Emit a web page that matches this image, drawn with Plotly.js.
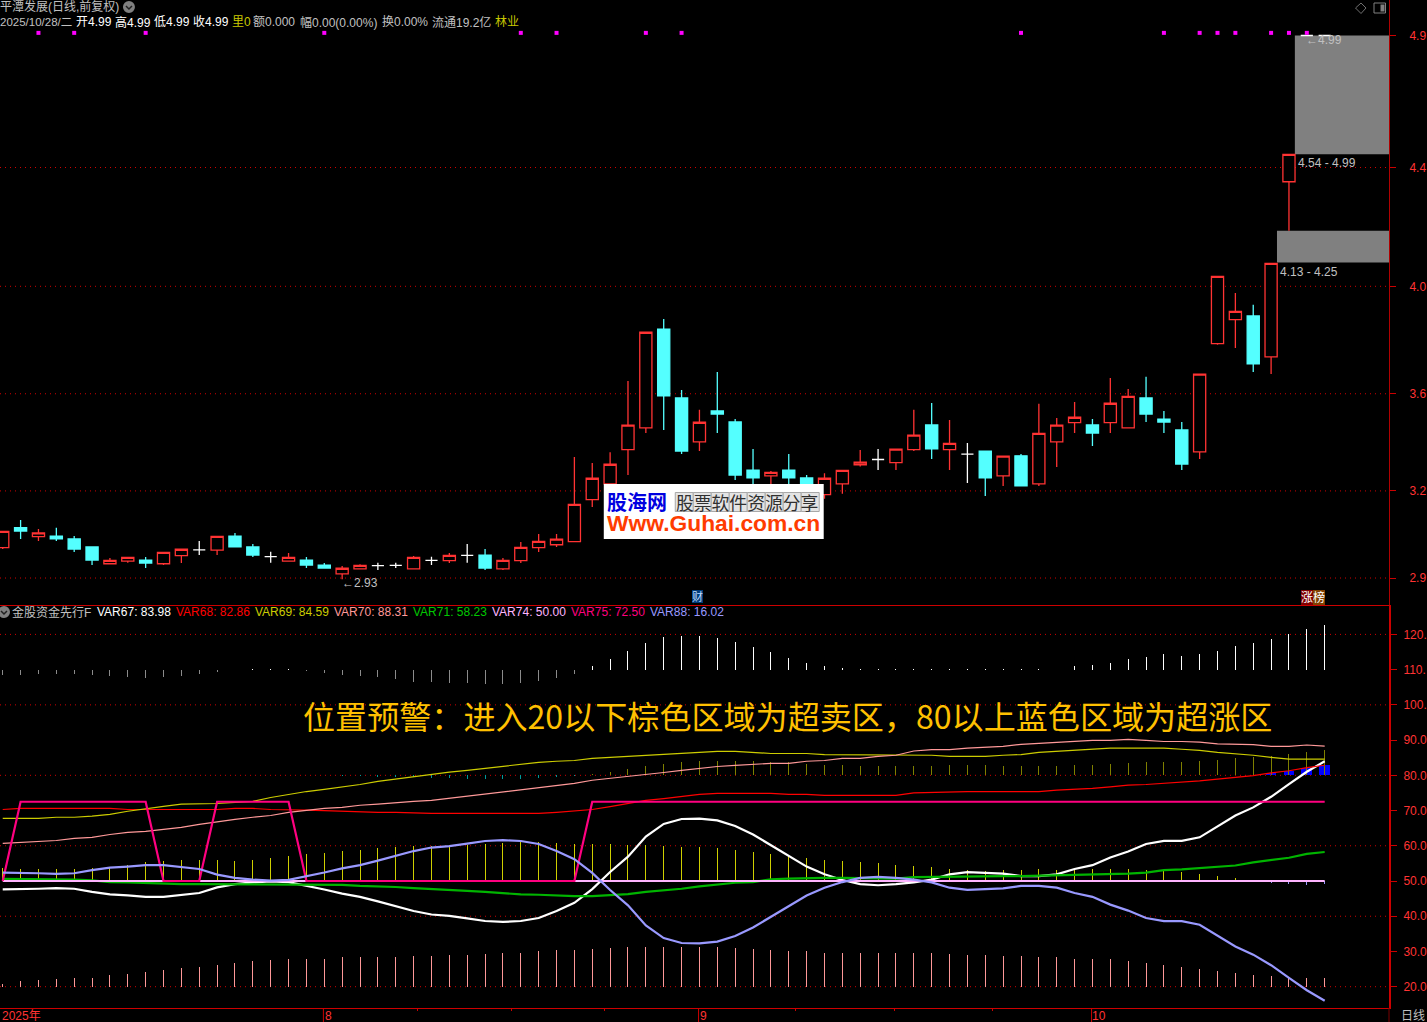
<!DOCTYPE html>
<html>
<head>
<meta charset="utf-8">
<script src="https://cdn.plot.ly/plotly-3.0.1.min.js"></script>
<style>html,body{margin:0;padding:0;background:#000;overflow:hidden}#chart{width:1427px;height:1022px}</style>
</head>
<body>
<div id="chart"></div>
<script>
const openPrices = [3.05,3.126,3.092,3.094,3.083,3.053,2.989,2.999,3.003,2.989,3.02,3.042,3.041,3.094,3.053,3.016,2.999,3.003,2.984,2.951,2.97,2.982,2.983,2.97,3.002,3.001,3.021,3.022,2.97,3.001,3.05,3.061,3.073,3.232,3.292,3.421,3.504,3.878,3.617,3.451,3.568,3.526,3.344,3.322,3.344,3.314,3.251,3.292,3.364,3.384,3.372,3.421,3.515,3.421,3.404,3.416,3.322,3.398,3.292,3.451,3.524,3.515,3.524,3.504,3.617,3.537,3.496,3.413,3.823,3.914,3.928,3.773,4.436,4.99,4.99];
const highPrices = [3.113,3.155,3.121,3.125,3.094,3.053,3.011,3.015,3.015,3.034,3.045,3.075,3.094,3.106,3.064,3.035,3.03,3.015,2.992,2.981,2.987,2.993,2.993,3.018,3.016,3.03,3.064,3.045,3.011,3.071,3.102,3.102,3.393,3.371,3.411,3.681,3.867,3.916,3.647,3.572,3.715,3.537,3.424,3.34,3.405,3.325,3.332,3.344,3.42,3.424,3.424,3.572,3.598,3.534,3.446,3.416,3.398,3.405,3.595,3.541,3.602,3.537,3.693,3.651,3.697,3.568,3.526,3.708,4.079,4.015,3.97,4.128,4.542,4.99,4.99];
const lowPrices = [3.045,3.083,3.075,3.075,3.034,2.984,2.988,2.993,2.973,2.984,2.992,3.022,3.022,3.051,3.015,2.993,2.999,2.973,2.973,2.93,2.968,2.965,2.973,2.97,2.984,2.992,2.993,2.965,2.965,2.992,3.034,3.053,3.073,3.204,3.276,3.325,3.484,3.496,3.405,3.416,3.484,3.306,3.268,3.291,3.284,3.268,3.235,3.254,3.357,3.344,3.344,3.416,3.386,3.344,3.295,3.246,3.284,3.284,3.284,3.356,3.484,3.435,3.484,3.504,3.526,3.484,3.344,3.386,3.819,3.806,3.715,3.708,4.25,4.99,4.99];
const closePrices = [3.112,3.113,3.106,3.083,3.045,3.003,3.002,3.013,2.992,3.032,3.044,3.042,3.093,3.053,3.022,3.016,3.013,2.984,2.973,2.972,2.983,2.982,2.983,3.013,3.002,3.021,3.021,2.973,3.002,3.051,3.074,3.082,3.214,3.313,3.366,3.514,3.866,3.625,3.416,3.525,3.556,3.325,3.314,3.335,3.314,3.268,3.313,3.343,3.374,3.384,3.423,3.476,3.424,3.445,3.404,3.314,3.397,3.284,3.483,3.514,3.544,3.484,3.597,3.623,3.556,3.526,3.367,3.707,4.078,3.945,3.746,4.127,4.54,4.99,4.99];
const signalDays = [2,4,8,18,29,31,36,38,57,65,67,68,69,71,72,73];
const signalLevel = 5.0;
const zoneStart = [71.33,72.33];
const zoneLow = [4.13,4.54];
const zoneHigh = [4.25,4.99];
const monthDays = [17.95,38.95,60.95];
const minorDays = [23.2,28.5,33.7,44.4,49.9,55.4];

const priceTickVals = [4.99,4.49,4.04,3.633,3.265,2.935];
const priceTickText = ['4.9','4.4','4.0','3.6','3.2','2.9'];
const priceGridVals = [4.49,4.04,3.633,3.265,2.935];
const indTickVals = [120,110,100,90,80,70,60,50,40,30,20];
const indTickText = ['120.','110.','100.','90.0','80.0','70.0','60.0','50.0','40.0','30.0','20.0'];
const indGridVals = [120,100,80,60,40,20];

const var67 = [47.6,47.6,47.8,48,47.8,46.9,46.2,45.9,45.5,45.5,46.1,46.6,48.2,49.1,49.6,49.9,49.7,48.7,47.6,46.4,45.5,44.2,42.8,41.5,40.5,40.1,39.4,38.65,38.4,38.65,39.5,41.5,43.8,47.7,52.55,56.9,62.6,66.2,67.6,67.7,67.2,65.6,63.2,60.2,57.1,54.1,51.9,50.3,49.1,48.8,49.1,49.6,50.4,51.9,52.5,52.4,52.1,51.4,51.4,51.9,53.4,54.5,56.7,58.4,60.5,61.4,61.4,62.4,65.4,68.6,70.9,73.9,77.5,81,83.98];
const var68 = [70.3,70.6,70.6,70.6,70.6,70.6,70.6,70.3,70.3,70.3,70.3,70.3,70.3,70.6,70.6,70.3,70.1,70.1,70,69.8,69.8,69.5,69.5,69.3,69.2,69.2,69.2,69.2,69,69.2,69.2,69.5,70,70.3,71.1,71.9,72.9,73.4,74,74.6,74.9,74.9,74.9,74.9,74.6,74.6,74.3,74.3,74.3,74.3,74.3,75,75.2,75.2,75.4,75.4,75.4,75.4,75.4,75.8,76,76.3,76.7,77.2,77.4,77.7,78,78.4,78.9,79.3,79.9,80.7,81.3,82.2,82.86];
const var69 = [67.8,67.8,67.8,68.1,68.1,68.4,68.9,69.8,70.6,71.2,71.8,71.8,72,72.3,72.6,73.7,74.6,75.4,76,76.6,77.4,78.3,79,79.7,80.3,80.9,81.4,82,82.5,83.1,83.7,84,84.2,84.8,85.1,85.4,85.7,85.9,86.2,86.5,86.8,86.8,86.5,86.2,86.2,86.2,85.9,85.9,85.9,85.9,85.7,85.7,85.7,85.4,85.4,85.4,85.7,85.9,86.5,86.8,87.1,87.4,87.7,87.7,87.7,87.7,87.4,87.1,86.5,86.2,85.7,85.1,84.6,84.6,84.59];
const var70 = [60.7,61,61.3,61.5,62.1,62.4,63.2,63.8,64.1,64.7,65.2,66.1,66.9,67.5,68.1,68.6,69.5,70.1,70.6,70.9,71.5,71.8,72.3,72.6,72.9,73.5,74,74.6,75.2,75.7,76.3,76.9,77.7,78.6,79.1,79.7,80.3,80.8,81.4,82,82.5,82.8,83.1,83.4,83.4,84,84.2,84.8,84.8,85.4,85.7,86.9,87.3,87.3,87.7,87.9,88.2,88.8,89.1,89.4,89.7,89.9,89.9,90.2,89.9,89.6,89.6,89.4,88.9,88.7,88.7,88.2,88.2,88.6,88.31];
const var71 = [50.6,50.6,50.6,50.5,50.4,50.2,49.7,49.6,49.4,49.3,49.1,49.1,49.1,49.1,49.1,49.1,49.1,49.1,49.1,48.9,48.6,48.5,48.3,48,47.8,47.6,47.2,46.9,46.5,46.2,46.1,45.8,45.7,45.7,45.9,46.3,46.9,47.3,47.8,48.5,49.1,49.5,49.7,50.5,50.7,50.9,50.9,50.9,50.9,50.8,50.7,51.1,51.2,51.3,51.4,51.4,51.4,51.4,51.5,51.7,51.8,52,52,52.1,52.4,53.1,53.3,53.7,54.2,54.4,55.3,55.9,56.6,57.7,58.23];
const var74 = [50,50,50,50,50,50,50,50,50,50,50,50,50,50,50,50,50,50,50,50,50,50,50,50,50,50,50,50,50,50,50,50,50,50,50,50,50,50,50,50,50,50,50,50,50,50,50,50,50,50,50,50,50,50,50,50,50,50,50,50,50,50,50,50,50,50,50,50,50,50,50,50,50,50,50];
const var75 = [50,72.5,72.5,72.5,72.5,72.5,72.5,72.5,72.5,50,50,50,72.5,72.5,72.5,72.5,72.5,50,50,50,50,50,50,50,50,50,50,50,50,50,50,50,50,72.5,72.5,72.5,72.5,72.5,72.5,72.5,72.5,72.5,72.5,72.5,72.5,72.5,72.5,72.5,72.5,72.5,72.5,72.5,72.5,72.5,72.5,72.5,72.5,72.5,72.5,72.5,72.5,72.5,72.5,72.5,72.5,72.5,72.5,72.5,72.5,72.5,72.5,72.5,72.5,72.5,72.5];
const var88 = [52.4,52.4,52.2,52,52.2,53.1,53.8,54.1,54.5,54.5,53.9,53.4,51.8,50.9,50.4,50.1,50.3,51.3,52.4,53.6,54.5,55.8,57.2,58.5,59.5,59.9,60.6,61.35,61.6,61.35,60.5,58.5,56.2,52.3,47.45,43.1,37.4,33.8,32.4,32.3,32.8,34.4,36.8,39.8,42.9,45.9,48.1,49.7,50.9,51.2,50.9,50.4,49.6,48.1,47.5,47.6,47.9,48.6,48.6,48.1,46.6,45.5,43.3,41.6,39.5,38.6,38.6,37.6,34.6,31.4,29.1,26.1,22.5,19,16.02];

const stick110 = [108.6,108.6,108.8,108.9,108.8,108.6,108.3,108,107.7,107.9,108.3,108.8,109.3,110,110.3,110.3,110.3,109.7,109.1,108.6,108.3,107.8,107.2,106.6,106.4,106.1,106.1,105.8,105.8,106.1,106.9,107.7,108.9,110.9,113.1,115.4,117.7,119.4,119.6,119.6,119.1,117.9,116.5,115.1,113.4,112,111.1,110.6,110.3,110.3,110.3,110.3,110.3,110.3,110.3,110.3,110.3,110.3,110.3,110,110.9,111.4,112,113.1,113.7,114.3,114,114.3,115.4,116.8,117.7,118.8,120.2,121.6,122.8];
const stick80 = [80,80,80,80,80,80,80,80,80,80,80,80,80,80,80,80,80,80,80,79.8,79.7,79.6,79.5,79.4,79.2,79.1,79.05,79.05,79.05,79.05,79.3,79.6,79.9,80.3,80.85,81.7,82.6,83.2,83.7,84,84,84,84,83.7,83.7,83.2,82.9,82.8,82.6,82.6,82.6,82.65,82.65,82.9,82.9,82.9,82.65,82.65,82.65,82.65,82.9,82.9,83.2,83.5,83.8,83.8,83.8,84.1,84.4,84.9,85.2,85.5,86.1,86.6,87.2];
const stick50 = [53.6,53.4,53.4,53.4,53.4,53.7,54,54.6,55.4,55.7,56,56,56,55.7,56,56.6,57.2,57.7,58,58.6,58.9,59.4,59.7,60,60,60.3,60.2,60.5,60.8,61.1,61.1,60.8,60.5,60.5,60.5,60.2,60.2,59.9,59.6,59.6,59.4,58.8,58.2,57.7,57.1,56.5,55.9,55.7,55.4,55.1,54.5,54.3,54,53.4,53.1,52.8,53.1,53.1,53.4,53.1,53.4,53.4,53.4,53.4,53.1,52.8,52.6,52,51.4,50.9,50,49.4,49.1,48.9,49.1];
const stick20 = [20.85,21.5,21.8,22.1,22.4,22.6,23.2,23.5,24.1,24.6,25.2,25.5,26.1,26.6,27.2,27.5,28,28,28,28.3,28.3,28.3,28.3,28.6,28.6,28.9,28.9,29.2,29.5,29.7,30,30.3,30.3,30.6,30.9,31.2,31.2,31.2,31.2,31.2,31.2,30.9,30.6,30.3,30,30,29.7,29.7,29.5,29.5,29.5,29.5,29.5,29.2,28.9,28.9,28.6,28.6,28.3,28.3,28,28,27.8,27.2,26.6,26.1,25.5,24.9,24.4,23.8,23.2,22.9,22.6,22.4,22.4];
const blueDays = [71,72,73,74];
const blueTops = [80.6,81.1,82.1,82.9];

const indexSeries = ['VAR67','VAR68','VAR69','VAR70','VAR71','VAR74','VAR75','VAR88'];
const indexLabels = ['83.98','82.86','84.59','88.31','58.23','50.00','72.50','16.02'];

/* layout helpers: page pixels to paper fractions */
const plotW = 1389.5, plotH = 1008;
const xStart = -0.153, xEnd = 77.6;
const px = v => v / plotW;
const py = v => 1 - v / plotH;
const days = openPrices.map((_, i) => i);
const RED = '#ff3333', CYAN = '#54ffff', AXIS = '#cc0000', GRID = '#d00000', GREY = '#c0c0c0';
const TXT = '"Liberation Sans","Noto Sans CJK SC",sans-serif';

function candle(test, up, down, fill) {
  const idx = days.filter(i => test(openPrices[i], closePrices[i]));
  return {
    type: 'candlestick', xaxis: 'x', yaxis: 'y', hoverinfo: 'skip',
    x: idx, open: idx.map(i => openPrices[i]), high: idx.map(i => highPrices[i]),
    low: idx.map(i => lowPrices[i]), close: idx.map(i => closePrices[i]),
    increasing: {line: {color: up, width: 1.3}, fillcolor: fill},
    decreasing: {line: {color: down, width: 1.3}, fillcolor: down}
  };
}
function sticks(values, base, upColor, downColor) {
  return {
    type: 'bar', xaxis: 'x2', yaxis: 'y2', hoverinfo: 'skip', x: days, width: 0.056, base: base,
    y: values.map(v => v - base),
    marker: {color: values.map(v => v >= base ? upColor : downColor), line: {width: 0}}
  };
}
function line(values, color, width) {
  return {type: 'scatter', mode: 'lines', xaxis: 'x2', yaxis: 'y2', hoverinfo: 'skip', x: days, y: values,
    line: {color: color, width: width, shape: 'linear'}};
}

const traces = [
  candle((o, c) => c > o, RED, RED, '#000000'),
  candle((o, c) => c < o, CYAN, CYAN, CYAN),
  candle((o, c) => c === o, '#ffffff', '#ffffff', '#ffffff'),
  {type: 'scatter', mode: 'markers', xaxis: 'x', yaxis: 'y', hoverinfo: 'skip', x: signalDays,
   y: signalDays.map(() => signalLevel), marker: {symbol: 'square', size: 4, color: '#ff00ff', line: {width: 0}}},
  {type: 'bar', xaxis: 'x2', yaxis: 'y2', hoverinfo: 'skip', x: blueDays, base: 80, width: 0.6,
   y: blueTops.map(v => v - 80), marker: {color: '#0000ff', line: {width: 0}}},
  sticks(stick110, 110, 'rgba(255,255,255,0.996)', 'rgba(140,140,140,0.996)'),
  sticks(stick80, 80, 'rgba(128,128,0,0.996)', 'rgba(0,154,154,0.996)'),
  sticks(stick50, 50, 'rgba(208,208,0,0.996)', 'rgba(153,153,255,0.996)'),
  sticks(stick20, 20, 'rgba(255,153,153,0.996)', 'rgba(255,153,153,0.996)'),
  line(var67, '#ffffff', 2.2),
  line(var68, '#ff0000', 1.2),
  line(var69, '#cccc00', 1.2),
  line(var70, '#ff9999', 1.2),
  line(var71, '#00b400', 2.2),
  line(var74, '#ffb4ff', 2),
  line(var75, '#ff0080', 2.2),
  line(var88, '#9999ff', 2.2)
];

const shapes = [];
priceGridVals.forEach(v => shapes.push({type: 'line', layer: 'below', xref: 'paper', yref: 'y', x0: 0, x1: 1, y0: v, y1: v,
  line: {color: GRID, width: 1, dash: '1px,4px'}}));
zoneStart.forEach((s, k) => shapes.push({type: 'rect', layer: 'below', xref: 'x', yref: 'y', x0: s, x1: xEnd,
  y0: zoneLow[k], y1: zoneHigh[k], fillcolor: '#808080', line: {width: 0}}));
indGridVals.forEach(v => shapes.push({type: 'line', layer: 'below', xref: 'paper', yref: 'y2', x0: 0, x1: 1, y0: v, y1: v,
  line: {color: GRID, width: 1, dash: '1px,4px'}}));
monthDays.forEach(d => shapes.push({type: 'line', xref: 'x', yref: 'paper', x0: d, x1: d, y0: py(1008), y1: py(1022),
  line: {color: AXIS, width: 1}}));
function pxRect(x0, y0, x1, y1, fill, border, extra) {
  return Object.assign({type: 'rect', layer: 'above', xref: 'paper', yref: 'paper', x0: px(x0), x1: px(x1), y0: py(y0), y1: py(y1),
    fillcolor: fill, line: border ? {color: border, width: 1} : {width: 0}}, extra || {});
}
function circleIcon(cx, cy) {
  shapes.push({type: 'circle', layer: 'above', xref: 'paper', yref: 'paper', x0: px(cx - 6), x1: px(cx + 6), y0: py(cy - 6), y1: py(cy + 6),
    fillcolor: '#808080', line: {width: 0}});
  shapes.push({type: 'path', layer: 'above', xref: 'paper', yref: 'paper',
    path: `M ${px(cx - 3)} ${py(cy - 1)} L ${px(cx)} ${py(cy + 2)} L ${px(cx + 3)} ${py(cy - 1)}`,
    line: {color: '#202020', width: 1.5}});
}
circleIcon(129, 7);
circleIcon(4, 612);
shapes.push({type: 'path', layer: 'above', xref: 'paper', yref: 'paper',
  path: `M ${px(1361.5)} ${py(3)} L ${px(1366.5)} ${py(8)} L ${px(1361.5)} ${py(13.5)} L ${px(1356)} ${py(8)} Z`,
  line: {color: '#707070', width: 1}});
shapes.push(pxRect(1374.5, 3, 1386, 13, '#000000', '#808080'));
shapes.push(pxRect(1381, 4.5, 1385, 11.5, '#808080', null));
shapes.push({type: 'line', layer: 'above', xref: 'paper', yref: 'paper', x0: px(1389.5), x1: px(1389.5), y0: py(1008), y1: py(1022),
  line: {color: '#7a0000', width: 1}});
/* site stamp */
shapes.push(pxRect(604, 484, 824, 539, '#ffffff', null));
for (let k = 0; k < 8; k++) shapes.push(pxRect(675.5 + 18 * k, 492.5, 693.5 + 18 * k, 511.5, '#e4e4e4', '#a8a8a8'));

const annotations = [];
function note(text, x, y, color, size, extra) {
  annotations.push(Object.assign({text: text, xref: 'paper', yref: 'paper', x: px(x), y: py(y), xanchor: 'left', yanchor: 'middle',
    showarrow: false, borderpad: 0, borderwidth: 0, font: {family: TXT, size: size, color: color}}, extra || {}));
}
note('平潭发展(日线,前复权)', 0, 7, GREY, 12);
note('2025/10/28/二', 0, 22, GREY, 11.5);
note('开4.99', 76, 22, '#ffffff', 12);
note('高4.99', 115, 22, '#ffffff', 12);
note('低4.99', 154, 22, '#ffffff', 12);
note('收4.99', 193, 22, '#ffffff', 12);
note('里0', 232, 22, '#c8c800', 12);
note('额0.000', 253, 22, GREY, 12);
note('幅0.00(0.00%)', 300, 22, GREY, 12);
note('换0.00%', 382, 22, GREY, 12);
note('流通19.2亿', 432, 22, GREY, 12);
note('林业', 495, 22, '#c8c800', 12);

note('金股资金先行F', 12, 612, GREY, 12);
const indexColors = ['#ffffff', '#ff0000', '#cccc00', '#ff9999', '#00c800', '#ffb4ff', '#ff0080', '#9999ff'];
indexSeries.forEach((n, k) => note(n + ': ' + indexLabels[k], 97 + 79 * k, 612, indexColors[k], 12));

note('←2.93', 342, 582.5, GREY, 12);
note('←4.99', 1306, 40.5, GREY, 12);
note('4.54 - 4.99', 1298, 163, GREY, 12);
note('4.13 - 4.25', 1280, 272, GREY, 12);
note('财', 692, 596.5, '#bfdcff', 11, {bgcolor: '#003a78'});
note('涨', 1301, 597, '#ffffff', 12, {bgcolor: '#800000'});
note('榜', 1313, 597, '#ffffff', 12, {bgcolor: '#804000'});

note('位置预警：进入20以下棕色区域为超卖区，80以上蓝色区域为超涨区', 303, 714.5, '#ffc000', 32.1, {font: {family: '"Noto Sans CJK SC",sans-serif', size: 32.1, color: '#ffc000'}});

note('股海网', 607, 501.5, '#0000e0', 20, {font: {family: '"Noto Sans CJK SC",sans-serif', size: 20, color: '#0000e0', weight: 700}});
note('股票软件资源分享', 676, 502, '#303030', 17.8, {font: {family: '"Noto Sans CJK SC",sans-serif', size: 17.8, color: '#303030'}});
note('Www.Guhai.com.cn', 607, 523, '#ff3c00', 22.8, {font: {family: '"Liberation Sans",sans-serif', size: 22.8, color: '#ff3c00', weight: 700}});

note('2025年', 2, 1015.5, RED, 12);
note('8', 325, 1015.5, RED, 12);
note('9', 700, 1015.5, RED, 12);
note('10', 1092, 1015.5, RED, 12);
note('日线', 1402, 1015.5, GREY, 12);

const xCommon = {range: [xStart, xEnd], showgrid: false, zeroline: false, showline: true, linecolor: AXIS, linewidth: 1, fixedrange: true};
const layout = {
  width: 1427, height: 1022, paper_bgcolor: '#000000', plot_bgcolor: '#000000', showlegend: false,
  margin: {l: 0, r: 37.5, t: 0, b: 14, pad: 0},
  barmode: 'overlay', boxgap: 0.32, boxgroupgap: 0, bargap: 0,
  font: {family: TXT, size: 12, color: RED},
  xaxis: Object.assign({}, xCommon, {anchor: 'y', domain: [0, 1], showticklabels: false, ticks: '', rangeslider: {visible: false}}),
  xaxis2: Object.assign({}, xCommon, {anchor: 'y2', domain: [0, 1], tickmode: 'array', tickvals: minorDays, ticktext: minorDays.map(() => ''),
    ticks: 'outside', ticklen: 2, tickcolor: AXIS, showticklabels: false, rangeslider: {visible: false}}),
  yaxis: {domain: [(plotH - 604.5) / plotH, 1], range: [5.1245 - 604.5 / 264, 5.1245], side: 'right', anchor: 'x', fixedrange: true,
    tickmode: 'array', tickvals: priceTickVals, ticktext: priceTickText, ticks: 'outside', ticklen: 6, tickcolor: AXIS, tickwidth: 1,
    showline: true, linecolor: '#b00000', linewidth: 1, showgrid: false, zeroline: false,
    ticklabelstandoff: 11, ticklabeloverflow: 'allow', tickfont: {family: TXT, size: 12, color: RED}},
  yaxis2: {domain: [0, (plotH - 605) / plotH], range: [20 + (986.7 - 1008) / 3.523, 20 + (986.7 - 605) / 3.523], side: 'right', anchor: 'x2', fixedrange: true,
    tickmode: 'array', tickvals: indTickVals, ticktext: indTickText, ticks: 'outside', ticklen: 6, tickcolor: AXIS, tickwidth: 1,
    showline: true, linecolor: AXIS, linewidth: 2, showgrid: false, zeroline: false,
    ticklabelstandoff: 4, ticklabeloverflow: 'allow', tickfont: {family: TXT, size: 12, color: RED}},
  shapes: shapes, annotations: annotations
};
Plotly.newPlot('chart', traces, layout, {displayModeBar: false, staticPlot: true});
</script>
</body>
</html>
